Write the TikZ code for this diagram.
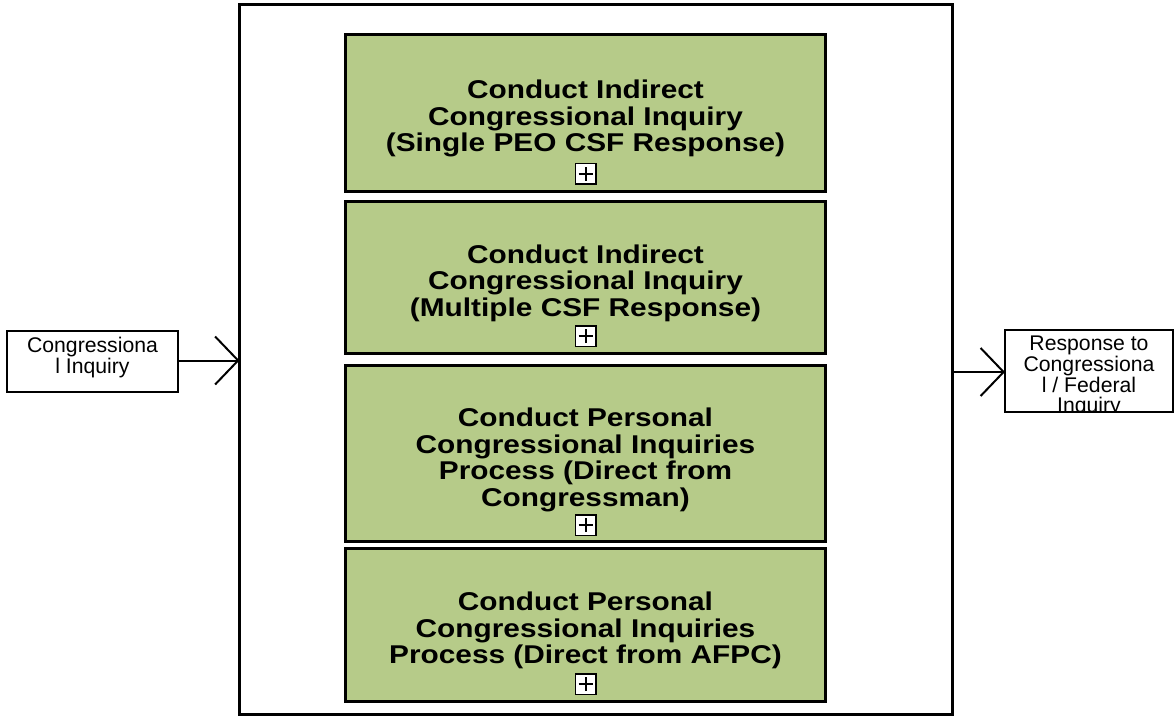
\documentclass[tikz,border=0pt]{standalone}
\usepackage{fontspec}
\setmainfont{Liberation Sans}
\usetikzlibrary{arrows.meta}
\definecolor{boxgreen}{RGB}{182,203,137}
\newcommand{\wl}[1]{\scalebox{1.16}[1]{#1}}
\begin{document}
\begin{tikzpicture}[x=1pt,y=-1pt,
  outerbox/.style={draw, line width=3pt, minimum width=712.5pt, minimum height=710pt, inner sep=0pt, outer sep=0pt},
  proc/.style={draw, line width=3pt, fill=boxgreen, minimum width=480.5pt, inner sep=0pt, outer sep=0pt},
  ptext/.style={align=center, font=\bfseries\fontsize{25.7}{26.5}\selectfont, anchor=base, inner sep=0pt},
  iobox/.style={draw, line width=2pt, inner sep=0pt, outer sep=0pt},
  iotext/.style={align=center, font=\fontsize{21.2}{19.6}\selectfont, anchor=base, inner sep=0pt},
  plusbox/.style={draw, fill=white, line width=1.5pt, minimum size=20.5pt, inner sep=0pt, outer sep=0pt,
    path picture={\draw[line width=2pt]
      ([xshift=-7pt]path picture bounding box.center) -- ([xshift=7pt]path picture bounding box.center)
      ([yshift=-7pt]path picture bounding box.center) -- ([yshift=7pt]path picture bounding box.center);}},
  arr/.style={line width=2pt, -{Straight Barb[length=23pt, width=48pt, line width=2pt]}}
]
\useasboundingbox (0,0) rectangle (1175,716);
\fill[white] (0,0) rectangle (1175,716);

\node[outerbox] (outer) at (595.75,359.5) {};

\node[proc, minimum height=157pt] (b1) at (585.25,112.5) {};
\node[proc, minimum height=152.5pt] (b2) at (585.25,277.25) {};
\node[proc, minimum height=176pt] (b3) at (585.25,453) {};
\node[proc, minimum height=153pt] (b4) at (585.25,624.5) {};

\node[ptext] (t1) at (585.5,151.7) {\wl{Conduct Indirect}\\\wl{Congressional Inquiry}\\\wl{(Single PEO CSF Response)}};
\node[ptext] (t2) at (585.5,316.2) {\wl{Conduct Indirect}\\\wl{Congressional Inquiry}\\\wl{(Multiple CSF Response)}};
\node[ptext] (t3) at (585.5,506) {\wl{Conduct Personal}\\\wl{Congressional Inquiries}\\\wl{Process (Direct from}\\\wl{Congressman)}};
\node[ptext] (t4) at (585.5,663.5) {\wl{Conduct Personal}\\\wl{Congressional Inquiries}\\\wl{Process (Direct from AFPC)}};

\node[plusbox] (p1) at (585.5,173.5) {};
\node[plusbox] (p2) at (585.5,336) {};
\node[plusbox] (p3) at (585.5,525) {};
\node[plusbox] (p4) at (585.5,684) {};

\node[iobox, minimum width=171.5pt, minimum height=61pt] (in) at (92.25,361) {};
\node[iotext] (intxt) at (92.5,373.3) {Congressiona\\l Inquiry};

\begin{scope}
\clip (1005,331) rectangle (1172.5,410.8);
\node[iotext] (outtxt) at (1089,412.1) {Response to\\Congressiona\\l / Federal\\Inquiry};
\end{scope}
\node[iobox, minimum width=168.3pt, minimum height=81.7pt] (out) at (1089.15,370.85) {};

\draw[arr] (in.east |- 0,360.5) -- (outer.west |- 0,360.5);
\draw[arr] (outer.east |- 0,372) -- (out.west |- 0,372);
\end{tikzpicture}
\end{document}
